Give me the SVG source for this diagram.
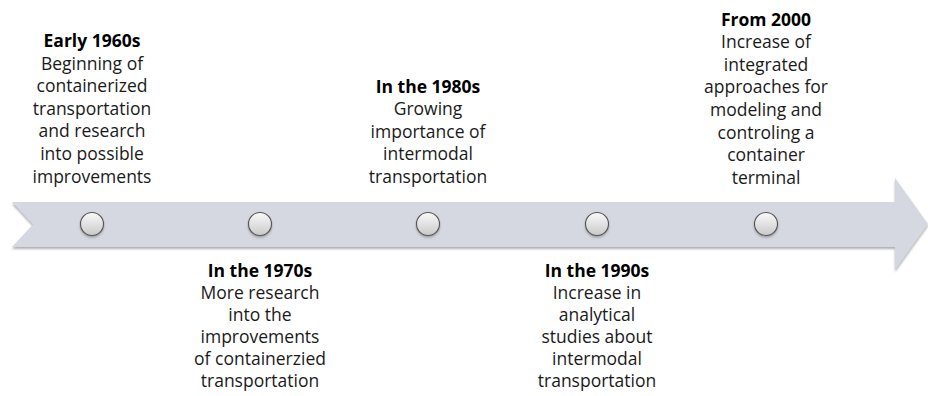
<svg xmlns="http://www.w3.org/2000/svg" width="928" height="396" viewBox="0 0 928 396">
  <defs>
    <linearGradient id="dotFill" x1="0" y1="0" x2="0" y2="1">
      <stop offset="0" stop-color="#fafafa"/>
      <stop offset="1" stop-color="#c9c9c9"/>
    </linearGradient>
    <filter id="arrowShadow" x="-5%" y="-20%" width="110%" height="150%">
      <feDropShadow dx="0" dy="2" stdDeviation="1.2" flood-color="#6d6d6d" flood-opacity="0.55"/>
    </filter>
    <filter id="dotShadow" x="-40%" y="-40%" width="180%" height="180%">
      <feDropShadow dx="0" dy="1.5" stdDeviation="1" flood-color="#555" flood-opacity="0.45"/>
    </filter>
  </defs>
  <style>
    text { font-family: "Open Sans", "Liberation Sans", sans-serif; font-size: 17.5px; fill: #1a1a1a; text-anchor: middle; }
    .head { font-weight: bold; fill: #000; }
    .dot { fill: url(#dotFill); stroke: #555; stroke-width: 1.1; filter: url(#dotShadow); }
  </style>
  <rect width="928" height="396" fill="#ffffff"/>

  <!-- timeline arrow -->
  <g id="connectors">
    <polygon points="12,202 895,202 895,178 928,224 895,270 895,247 12,247 33,224.5" fill="#d5d8e0" filter="url(#arrowShadow)"/>
  </g>

  <g id="node-1960s">
    <circle class="dot" cx="92" cy="224" r="11.5"/>
    <text x="92" y="47"><tspan class="head">Early 1960s</tspan><tspan x="92" dy="22.6">Beginning of</tspan><tspan x="92" dy="22.6">containerized</tspan><tspan x="92" dy="22.6">transportation</tspan><tspan x="92" dy="22.6">and research</tspan><tspan x="92" dy="22.6">into possible</tspan><tspan x="92" dy="22.6">improvements</tspan></text>
  </g>

  <g id="node-1970s">
    <circle class="dot" cx="260" cy="224" r="11.5"/>
    <text x="260" y="277"><tspan class="head">In the 1970s</tspan><tspan x="260" dy="22">More research</tspan><tspan x="260" dy="22">into the</tspan><tspan x="260" dy="22">improvements</tspan><tspan x="260" dy="22">of containerzied</tspan><tspan x="260" dy="22">transportation</tspan></text>
  </g>

  <g id="node-1980s">
    <circle class="dot" cx="428" cy="224" r="11.5"/>
    <text x="428" y="93"><tspan class="head">In the 1980s</tspan><tspan x="428" dy="22.4">Growing</tspan><tspan x="428" dy="22.4">importance of</tspan><tspan x="428" dy="22.4">intermodal</tspan><tspan x="428" dy="22.4">transportation</tspan></text>
  </g>

  <g id="node-1990s">
    <circle class="dot" cx="597" cy="224" r="11.5"/>
    <text x="597" y="277"><tspan class="head">In the 1990s</tspan><tspan x="597" dy="22">Increase in</tspan><tspan x="597" dy="22">analytical</tspan><tspan x="597" dy="22">studies about</tspan><tspan x="597" dy="22">intermodal</tspan><tspan x="597" dy="22">transportation</tspan></text>
  </g>

  <g id="node-2000">
    <circle class="dot" cx="766" cy="224" r="11.5"/>
    <text x="766" y="25.5"><tspan class="head">From 2000</tspan><tspan x="766" dy="22.6">Increase of</tspan><tspan x="766" dy="22.6">integrated</tspan><tspan x="766" dy="22.6">approaches for</tspan><tspan x="766" dy="22.6">modeling and</tspan><tspan x="766" dy="22.6">controling a</tspan><tspan x="766" dy="22.6">container</tspan><tspan x="766" dy="22.6">terminal</tspan></text>
  </g>
</svg>
